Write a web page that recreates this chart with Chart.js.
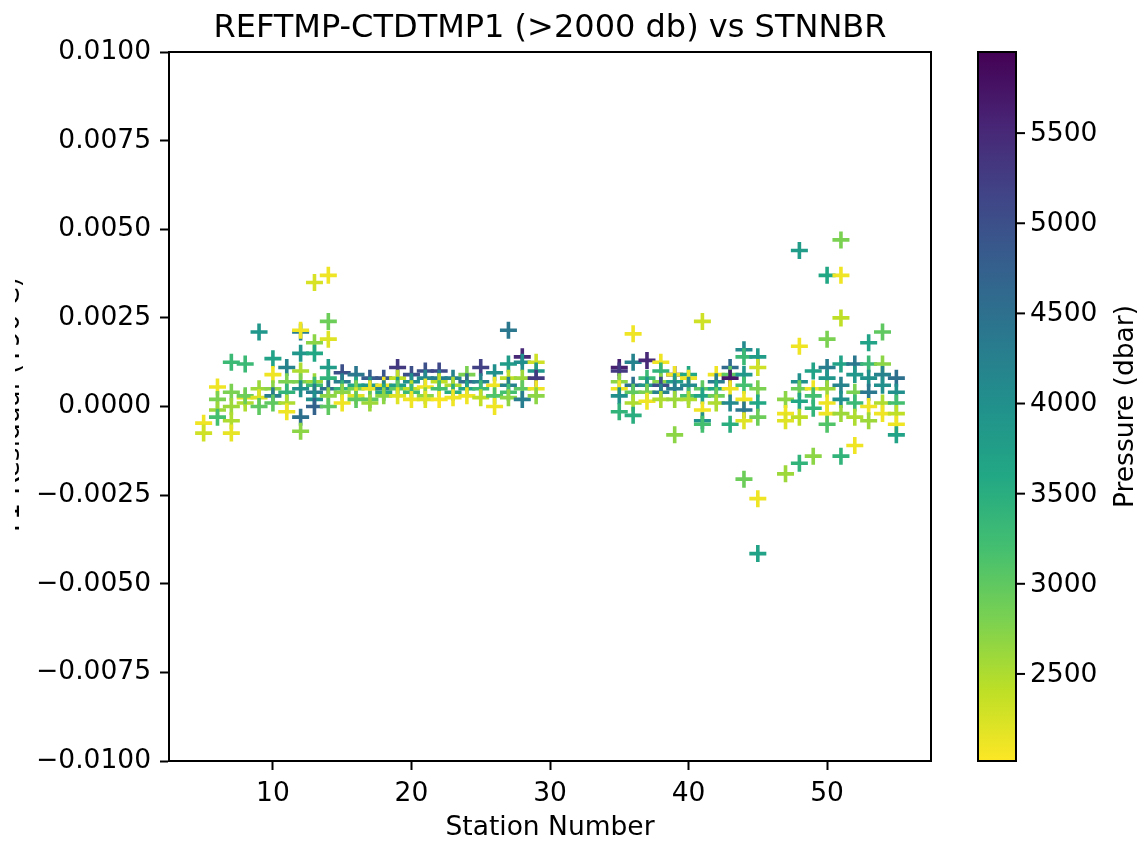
<!DOCTYPE html>
<html>
<head>
<meta charset="utf-8">
<script src="https://cdn.jsdelivr.net/npm/chart.js@4"></script>
<style>
  html, body { margin: 0; padding: 0; background: #fff; }
  canvas { display: block; }
</style>
</head>
<body>
<canvas id="chart" width="1139" height="844"></canvas>
<script>
// one entry per marker, grouped by station
const stations = [
  5, 5,
  6, 6, 6, 6,
  7, 7, 7, 7, 7,
  8, 8, 8, 8,
  9, 9, 9, 9,
  10, 10, 10, 10, 10,
  11, 11, 11, 11, 11,
  12, 12, 12, 12, 12, 12, 12, 12,
  13, 13, 13, 13, 13, 13, 13, 13,
  14, 14, 14, 14, 14, 14, 14, 14,
  15, 15, 15, 15, 15,
  16, 16, 16, 16, 16,
  17, 17, 17, 17, 17,
  18, 18, 18, 18, 18,
  19, 19, 19, 19, 19,
  20, 20, 20, 20, 20,
  21, 21, 21, 21, 21,
  22, 22, 22, 22, 22,
  23, 23, 23, 23,
  24, 24, 24, 24,
  25, 25, 25, 25,
  26, 26, 26, 26,
  27, 27, 27, 27, 27, 27,
  28, 28, 28, 28, 28,
  29, 29, 29, 29, 29,
  35, 35, 35, 35, 35, 35,
  36, 36, 36, 36, 36, 36,
  37, 37, 37, 37, 37,
  38, 38, 38, 38, 38, 38,
  39, 39, 39, 39, 39, 39,
  40, 40, 40, 40, 40,
  41, 41, 41, 41, 41, 41,
  42, 42, 42, 42, 42,
  43, 43, 43, 43, 43, 43,
  44, 44, 44, 44, 44, 44, 44, 44,
  45, 45, 45, 45, 45, 45, 45,
  47, 47, 47, 47,
  48, 48, 48, 48, 48, 48, 48,
  49, 49, 49, 49, 49,
  50, 50, 50, 50, 50, 50, 50, 50,
  51, 51, 51, 51, 51, 51, 51, 51,
  52, 52, 52, 52, 52, 52,
  53, 53, 53, 53, 53, 53,
  54, 54, 54, 54, 54, 54,
  55, 55, 55, 55, 55, 55
];

const residuals = [
  -0.00047, -0.00075,
  0.00055, 0.0002, -0.0001, -0.0003,
  0.00125, 0.0004, 0.0, -0.0004, -0.00075,
  0.0012, 0.00025, 0.0001, 0.0003,
  0.0021, 0.0005, 0.00025, 0.0,
  0.00135, 0.0009, 0.0005, 0.0003, 0.0001,
  0.0011, 0.0007, 0.0004, 0.0001, -0.00015,
  0.0021, 0.00215, 0.0015, 0.001, 0.0007, 0.0005, -0.0003, -0.0007,
  0.0035, 0.0018, 0.0015, 0.0007, 0.0006, 0.0004, 0.0002, 0.0,
  0.0037, 0.0024, 0.0019, 0.0011, 0.0008, 0.0005, 0.0003, 0.0,
  0.00095, 0.0007, 0.0005, 0.0004, 0.0001,
  0.0009, 0.0006, 0.0005, 0.0003, 0.0002,
  0.0008, 0.0006, 0.0005, 0.0002, 0.0001,
  0.0008, 0.0006, 0.0005, 0.0004, 0.0003,
  0.0011, 0.0008, 0.0006, 0.0005, 0.0003,
  0.0009, 0.0007, 0.0005, 0.0004, 0.0002,
  0.001, 0.0008, 0.00055, 0.0003, 0.0002,
  0.001, 0.0008, 0.0007, 0.0005, 0.0002,
  0.0008, 0.0006, 0.0004, 0.00025,
  0.0009, 0.0007, 0.0005, 0.0003,
  0.0011, 0.0007, 0.0005, 0.00025,
  0.00095, 0.0006, 0.0003, 0.0,
  0.00215, 0.0012, 0.0008, 0.0006, 0.0004, 0.00025,
  0.0014, 0.00125, 0.0008, 0.0005, 0.0002,
  0.00125, 0.001, 0.0008, 0.0005, 0.0003,
  0.0011, 0.001, 0.0007, 0.0005, 0.0003, -0.00015,
  0.00205, 0.00125, 0.0006, 0.0004, 0.0001, -0.00025,
  0.0013, 0.0008, 0.0006, 0.0004, 0.00015,
  0.00125, 0.001, 0.0007, 0.0006, 0.0004, 0.0002,
  0.0009, 0.0009, 0.0007, 0.0005, 0.0002, -0.0008,
  0.0009, 0.0008, 0.0006, 0.0003, 0.0002,
  0.0024, 0.0005, 0.0003, -0.0001, -0.0004, -0.0005,
  0.0009, 0.0007, 0.0005, 0.0003, 0.0001,
  0.0011, 0.0009, 0.0008, 0.0005, 0.0001, -0.0005,
  0.0016, 0.0014, 0.0009, 0.0006, 0.0002, -0.0001, -0.0004, -0.00205,
  0.0014, 0.0011, 0.0005, 0.0001, -0.0003, -0.0026, -0.00415,
  0.0002, -0.0002, -0.0004, -0.0019,
  0.0044, 0.0017, 0.0007, 0.0005, 0.00015, -0.0003, -0.0016,
  0.001, 0.0005, 0.0003, -0.00005, -0.0014,
  0.0037, 0.0019, 0.0011, 0.0008, 0.0005, 0.0001, -0.0002, -0.0005,
  0.0047, 0.0037, 0.0025, 0.0012, 0.0006, 0.0002, -0.0002, -0.0014,
  0.0012, 0.0009, 0.0004, 0.0001, -0.0003, -0.0011,
  0.0018, 0.0012, 0.0008, 0.0004, 0.0, -0.0004,
  0.0021, 0.0012, 0.0009, 0.0006, 0.0001, -0.0002,
  0.0008, 0.0004, 0.0001, -0.0002, -0.0005, -0.0008
];

const pressures = [
  2100, 2300,
  2100, 2800, 2600, 3200,
  3300, 2800, 2600, 2500, 2150,
  3300, 2150, 2500, 2900,
  3900, 2600, 2200, 3000,
  3700, 2100, 2700, 4300, 3000,
  4200, 2800, 3400, 2500, 2100,
  4300, 2100, 3900, 2500, 2800, 4000, 4500, 2700,
  2250, 2700, 3600, 2600, 3300, 4300, 4000, 4700,
  2100, 2900, 2200, 3800, 3400, 4500, 2700, 3000,
  5000, 4300, 3400, 2700, 2100,
  4400, 3600, 2800, 2200, 3000,
  4800, 3900, 2150, 3000, 2600,
  4900, 2100, 4200, 3600, 2700,
  5300, 2400, 3800, 3000, 2200,
  5000, 4000, 2400, 3300, 2100,
  5000, 4100, 2100, 2700, 2200,
  5100, 4300, 2400, 3200, 2050,
  4200, 2500, 3500, 2100,
  2800, 4600, 3700, 2100,
  5200, 4200, 3300, 2400,
  4000, 2100, 3100, 2100,
  4400, 3800, 2400, 4200, 3200, 2700,
  5500, 4000, 2600, 3000, 4300,
  2300, 3900, 5300, 2100, 2700,
  5600, 5300, 2700, 2100, 4000, 3400,
  2100, 4200, 4500, 3000, 2500, 3500,
  5500, 3300, 3900, 2800, 2100,
  2100, 3400, 2700, 5000, 4200, 2500,
  5500, 2100, 3800, 4300, 2600, 2700,
  3600, 2100, 4100, 3200, 2500,
  2300, 3000, 3700, 2100, 4000, 3200,
  2100, 4300, 3600, 2900, 2500,
  4600, 3000, 5700, 2100, 4100, 3500,
  4100, 3300, 3900, 3200, 2100, 4400, 2200, 2900,
  3800, 2300, 2800, 3600, 2900, 2100, 3700,
  2700, 2100, 2200, 2600,
  3800, 2100, 4000, 2900, 3600, 2400, 3400,
  3700, 2100, 3200, 3400, 2700,
  3600, 2800, 4300, 3900, 2600, 2100, 2100, 3100,
  2800, 2100, 2400, 3700, 4200, 4000, 2600, 3400,
  4400, 3900, 2800, 3300, 2500, 2100,
  3700, 3300, 4000, 4400, 2100, 2600,
  3000, 2700, 4200, 4000, 2500, 2100,
  4500, 4000, 3200, 2400, 2100, 3700
];

const xTicks = [10, 20, 30, 40, 50];
const yTicks = [-0.01, -0.0075, -0.005, -0.0025, 0, 0.0025, 0.005, 0.0075, 0.01];
const pressureTicks = [2500, 3000, 3500, 4000, 4500, 5000, 5500];
const pressureMin = 2017;
const pressureMax = 5950;

const FONT = "'DejaVu Sans', sans-serif";
const SIZE = 26.5;

// viridis anchor colours, 0 -> 1
const viridis = ["#440154", "#482475", "#414487", "#355f8d", "#2a788e", "#21918c",
                 "#22a884", "#44bf70", "#7ad151", "#bddf26", "#fde725"];
const viridisRgb = viridis.map(h => [1, 3, 5].map(i => parseInt(h.substr(i, 2), 16)));

// reversed viridis: low pressure yellow, high pressure purple
function pressureColor(p) {
  let t = (p - pressureMin) / (pressureMax - pressureMin);
  t = 1 - Math.min(1, Math.max(0, t));
  const f = t * 10;
  const i = Math.min(9, Math.floor(f));
  const u = f - i;
  const a = viridisRgb[i], b = viridisRgb[i + 1];
  const c = a.map((v, k) => Math.round(v + (b[k] - v) * u));
  return `rgb(${c[0]},${c[1]},${c[2]})`;
}

const points = stations.map((s, i) => ({ x: s, y: residuals[i] }));
const colors = pressures.map(pressureColor);

const fmtY = v => (v < 0 ? "\u2212" : "") + Math.abs(v).toFixed(4);

const extras = {
  id: "extras",
  afterDraw(chart) {
    const ctx = chart.ctx;
    const area = chart.chartArea;
    ctx.save();

    // axes frame
    ctx.strokeStyle = "#000";
    ctx.lineWidth = 2;
    ctx.strokeRect(area.left, area.top, area.right - area.left, area.bottom - area.top);

    // title
    ctx.fillStyle = "#000";
    ctx.font = `32px ${FONT}`;
    ctx.textAlign = "center";
    ctx.textBaseline = "alphabetic";
    ctx.fillText("REFTMP-CTDTMP1 (>2000 db) vs STNNBR", (area.left + area.right) / 2, 37);

    // y label, cut at the left edge like the original
    ctx.save();
    ctx.beginPath();
    ctx.rect(15, 0, 120, 844);
    ctx.clip();
    ctx.translate(19, (area.top + area.bottom) / 2);
    ctx.rotate(-Math.PI / 2);
    ctx.font = `${SIZE}px ${FONT}`;
    ctx.fillText("T1 Residual (T90 C)", 0, 0);
    ctx.restore();

    // colorbar
    const cbL = 978, cbR = 1016;
    const cb = chart.scales.cb;
    const grad = ctx.createLinearGradient(0, area.bottom, 0, area.top);
    viridis.forEach((c, k) => grad.addColorStop(k / 10, viridis[10 - k]));
    ctx.fillStyle = grad;
    ctx.fillRect(cbL, area.top, cbR - cbL, area.bottom - area.top);
    ctx.strokeRect(cbL, area.top, cbR - cbL, area.bottom - area.top);

    ctx.fillStyle = "#000";
    ctx.font = `${SIZE}px ${FONT}`;
    ctx.textAlign = "left";
    ctx.textBaseline = "middle";
    pressureTicks.forEach(p => {
      const y = cb.getPixelForValue(p);
      ctx.beginPath();
      ctx.moveTo(cbR, y);
      ctx.lineTo(cbR + 9, y);
      ctx.stroke();
      ctx.fillText(String(p), cbR + 14, y + 1);
    });

    ctx.translate(1133, (area.top + area.bottom) / 2);
    ctx.rotate(-Math.PI / 2);
    ctx.textAlign = "center";
    ctx.textBaseline = "alphabetic";
    ctx.fillText("Pressure (dbar)", 0, 0);

    ctx.restore();
  }
};

new Chart(document.getElementById("chart"), {
  type: "scatter",
  data: {
    datasets: [{
      data: points,
      pointStyle: "cross",
      pointRadius: 8.5,
      pointHoverRadius: 8.5,
      pointBorderWidth: 3.6,
      pointHoverBorderWidth: 3.6,
      pointBorderColor: colors,
      pointBackgroundColor: colors
    }]
  },
  options: {
    responsive: false,
    animation: false,
    events: [],
    layout: { padding: { top: 52, right: 208, left: 0, bottom: 0 } },
    plugins: {
      legend: { display: false },
      tooltip: { enabled: false },
      title: { display: false }
    },
    scales: {
      x: {
        type: "linear",
        min: 2.5,
        max: 57.5,
        afterBuildTicks: s => { s.ticks = xTicks.map(v => ({ value: v })); },
        afterFit: s => { s.height = 83; },
        grid: { drawOnChartArea: false, drawTicks: true, tickLength: 9, tickWidth: 2, tickColor: "#000" },
        border: { display: true, color: "#000", width: 2 },
        ticks: {
          color: "#000",
          font: { family: FONT, size: SIZE },
          padding: 8,
          maxRotation: 0,
          callback: v => String(v)
        },
        title: {
          display: true,
          text: "Station Number",
          color: "#000",
          font: { family: FONT, size: SIZE },
          padding: { top: 0, bottom: 0 }
        }
      },
      y: {
        type: "linear",
        min: -0.01,
        max: 0.01,
        afterBuildTicks: s => { s.ticks = yTicks.map(v => ({ value: v })); },
        afterFit: s => { s.width = 169; },
        grid: { drawOnChartArea: false, drawTicks: true, tickLength: 9, tickWidth: 2, tickColor: "#000" },
        border: { display: true, color: "#000", width: 2 },
        ticks: {
          color: "#000",
          font: { family: FONT, size: SIZE },
          padding: 9,
          callback: v => fmtY(v)
        }
      },
      cb: {
        type: "linear",
        position: "right",
        display: false,
        min: pressureMin,
        max: pressureMax
      }
    }
  },
  plugins: [extras]
});
</script>
</body>
</html>
